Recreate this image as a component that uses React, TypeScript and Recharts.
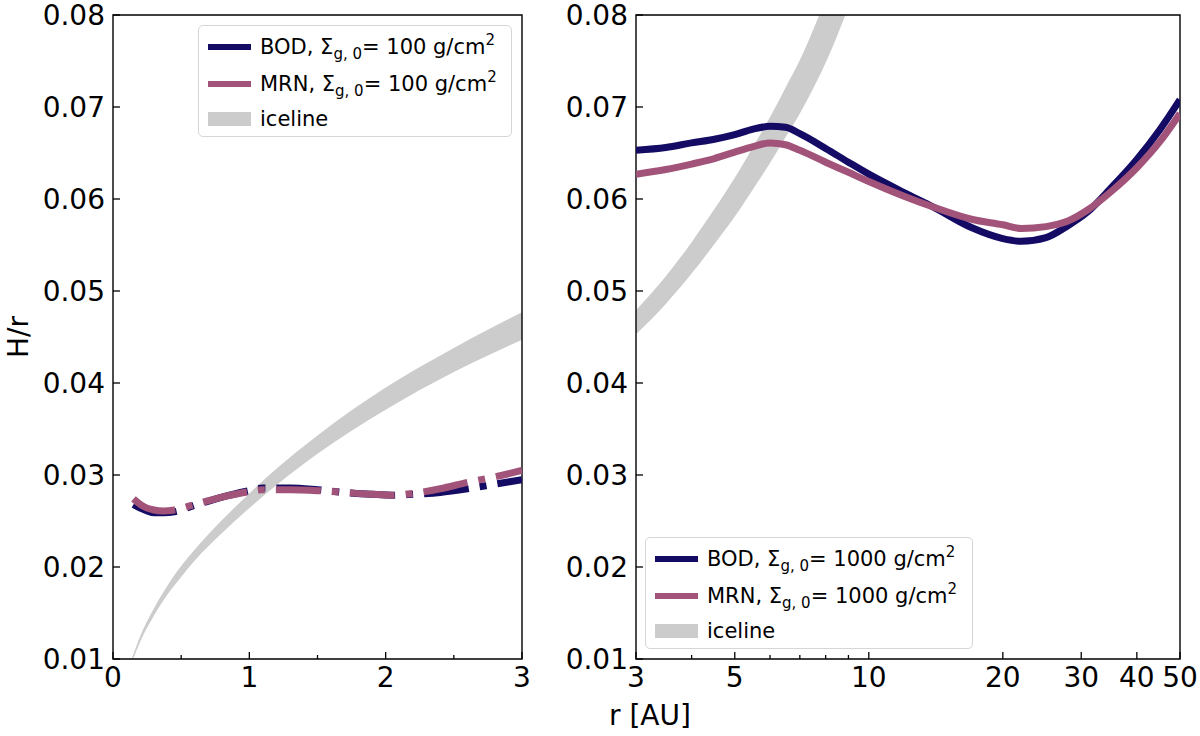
import React from "react";
import { ComposedChart, Line, Area, XAxis, YAxis, ReferenceArea } from "recharts";

const FONT = "'DejaVu Sans', sans-serif";
const BOD_COLOR = "#130b64";
const MRN_COLOR = "#a15379";
const ICE_COLOR = "#cccccc";

// inner disc, Σg,0 = 100 g/cm² (linear r)
const R_INNER = [0.15, 0.2, 0.25, 0.3, 0.37, 0.45, 0.6, 0.8, 1.0, 1.1, 1.3, 1.5, 1.7, 1.9, 2.05, 2.2, 2.4, 2.6, 2.8, 3.0];
const BOD_INNER = [0.0268, 0.0264, 0.0261, 0.0259, 0.0259, 0.026, 0.0267, 0.0276, 0.0283, 0.0286, 0.0286, 0.0284, 0.0281, 0.0279, 0.0278, 0.0279, 0.0281, 0.0285, 0.029, 0.0295];
const MRN_INNER = [0.0274, 0.0268, 0.0264, 0.0262, 0.0261, 0.0262, 0.0268, 0.0276, 0.0282, 0.0284, 0.0284, 0.0283, 0.0281, 0.0279, 0.0278, 0.028, 0.0285, 0.0292, 0.0298, 0.0305];
const ICE_R_INNER = [0.14, 0.2, 0.3, 0.4, 0.5, 0.6, 0.8, 1.0, 1.2, 1.5, 2.0, 2.5, 3.0];
const ICE_LOW_INNER = [0.0097, 0.0119, 0.0147, 0.017, 0.0189, 0.0207, 0.0237, 0.0264, 0.0289, 0.0323, 0.0371, 0.0412, 0.0447];
const ICE_HIGH_INNER = [0.0101, 0.0125, 0.0155, 0.018, 0.0201, 0.0219, 0.0251, 0.028, 0.0307, 0.0343, 0.0395, 0.0438, 0.0477];

// outer disc, Σg,0 = 1000 g/cm² (log r)
const R_OUTER = [3, 3.5, 4, 4.5, 5, 5.5, 6, 6.5, 7, 8, 9, 10, 12, 14, 17, 20, 22, 25, 28, 31, 35, 40, 45, 50];
const BOD_OUTER = [0.0653, 0.0656, 0.0661, 0.0665, 0.067, 0.0676, 0.0679, 0.0678, 0.0671, 0.0655, 0.064, 0.0627, 0.0607, 0.0591, 0.0569, 0.0557, 0.0554, 0.0558, 0.0571, 0.0586, 0.0612, 0.0643, 0.0675, 0.0708];
const MRN_OUTER = [0.0627, 0.0632, 0.0638, 0.0644, 0.0651, 0.0657, 0.0661, 0.0659, 0.0653, 0.064, 0.0629, 0.0619, 0.0603, 0.0591, 0.0578, 0.0572, 0.0568, 0.057, 0.0576, 0.0588, 0.0608, 0.0634, 0.0662, 0.0693];
const ICE_R_OUTER = [3, 3.5, 4, 4.5, 5, 5.5, 6, 6.5, 7, 7.5, 8, 8.5, 9, 9.5];
const ICE_LOW_OUTER = [0.0453, 0.0486, 0.0519, 0.0551, 0.0581, 0.0611, 0.0639, 0.0667, 0.0693, 0.072, 0.0748, 0.0778, 0.0809, 0.0843];
const ICE_HIGH_OUTER = [0.0479, 0.0516, 0.0553, 0.0589, 0.0623, 0.0657, 0.0689, 0.0721, 0.0751, 0.0784, 0.0818, 0.0854, 0.0891, 0.0929];

const H_TICKS = [0.01, 0.02, 0.03, 0.04, 0.05, 0.06, 0.07, 0.08];
const R_TICKS_INNER = [0, 0.5, 1, 1.5, 2, 2.5, 3];
const R_LABELS_INNER = [0, 1, 2, 3];
const R_TICKS_OUTER = [3, 4, 5, 6, 7, 8, 9, 10, 20, 30, 40, 50];
const R_LABELS_OUTER = [3, 5, 10, 20, 30, 40, 50];

function buildRows(xs: number[], bod: number[], mrn: number[], iceX: number[], iceLow: number[], iceHigh: number[]) {
  const map = new Map<number, any>();
  const row = (x: number) => {
    if (!map.has(x)) map.set(x, { r: x });
    return map.get(x);
  };
  xs.forEach((x, i) => {
    const o = row(x);
    o.bod = bod[i];
    o.mrn = mrn[i];
  });
  iceX.forEach((x, i) => {
    row(x).ice = [iceLow[i], iceHigh[i]];
  });
  return [...map.values()].sort((a, b) => a.r - b.r);
}

const makeXTick = (labels: number[]) => (props: any) => {
  const { x, y, payload } = props;
  const major = labels.includes(payload.value);
  return (
    <g>
      <line x1={x} x2={x} y1={y} y2={y - (major ? 7 : 4)} stroke="#000" strokeWidth={1.3} />
      {major && (
        <text x={x} y={y + 28} textAnchor="middle" fontSize={28} fontFamily={FONT} fill="#000">
          {payload.value}
        </text>
      )}
    </g>
  );
};

const YTick = (props: any) => {
  const { x, y, payload } = props;
  return (
    <g>
      <line x1={x} x2={x + 7} y1={y} y2={y} stroke="#000" strokeWidth={1.3} />
      <text x={x - 8} y={y + 10} textAnchor="end" fontSize={28} fontFamily={FONT} fill="#000">
        {payload.value.toFixed(2)}
      </text>
    </g>
  );
};

type PanelProps = {
  rows: any[];
  width: number;
  left: number;
  yAxisWidth: number;
  marginRight: number;
  domain: [number, number];
  log?: boolean;
  ticks: number[];
  labels: number[];
  dash?: string;
};

function Panel({ rows, width, left, yAxisWidth, marginRight, domain, log, ticks, labels, dash }: PanelProps) {
  return (
    <div style={{ position: "absolute", left, top: 0 }}>
      <ComposedChart width={width} height={736} data={rows} margin={{ top: 15, right: marginRight, bottom: 0, left: 0 }}>
        <XAxis
          dataKey="r"
          type="number"
          scale={log ? "log" : "linear"}
          domain={domain}
          allowDataOverflow
          ticks={ticks}
          interval={0}
          height={77}
          axisLine={false}
          tickLine={false}
          tickSize={0}
          tickMargin={0}
          tick={makeXTick(labels)}
        />
        <YAxis
          type="number"
          domain={[0.01, 0.08]}
          allowDataOverflow
          ticks={H_TICKS}
          interval={0}
          width={yAxisWidth}
          axisLine={false}
          tickLine={false}
          tickSize={0}
          tickMargin={0}
          tick={YTick}
        />
        <Area
          dataKey="ice"
          type="monotone"
          stroke="none"
          fill={ICE_COLOR}
          fillOpacity={1}
          connectNulls
          dot={false}
          activeDot={false}
          isAnimationActive={false}
        />
        <Line
          dataKey="bod"
          type="monotone"
          stroke={BOD_COLOR}
          strokeWidth={7}
          strokeDasharray={dash}
          connectNulls
          dot={false}
          activeDot={false}
          isAnimationActive={false}
        />
        <Line
          dataKey="mrn"
          type="monotone"
          stroke={MRN_COLOR}
          strokeWidth={7}
          strokeDasharray={dash}
          connectNulls
          dot={false}
          activeDot={false}
          isAnimationActive={false}
        />
        <ReferenceArea
          x1={domain[0]}
          x2={domain[1]}
          y1={0.01}
          y2={0.08}
          fill="none"
          fillOpacity={0}
          stroke="#000"
          strokeWidth={1.4}
          ifOverflow="visible"
        />
      </ComposedChart>
    </div>
  );
}

function LegendBox({ left, top, width, sigma }: { left: number; top: number; width: number; sigma: string }) {
  const sub = { fontSize: 15, position: "relative" as const, top: 5 };
  const sup = { fontSize: 15, position: "relative" as const, top: -9 };
  const items = [
    { name: "BOD", color: BOD_COLOR, patch: false },
    { name: "MRN", color: MRN_COLOR, patch: false },
    { name: "iceline", color: ICE_COLOR, patch: true },
  ];
  const centers = [21, 58, 93];
  return (
    <div
      style={{
        position: "absolute",
        left,
        top,
        width,
        height: 112,
        boxSizing: "border-box",
        border: "1.3px solid #d6d6d6",
        borderRadius: 5,
        background: "rgba(255,255,255,0.8)",
        fontFamily: FONT,
        fontSize: 21,
        color: "#000",
      }}
    >
      {items.map((it, i) => (
        <div
          key={it.name}
          style={{ position: "absolute", left: 9, top: centers[i] - 18, height: 36, display: "flex", alignItems: "center", whiteSpace: "nowrap" }}
        >
          <svg width={43} height={36} style={{ marginRight: 9 }}>
            {it.patch ? (
              <rect x={0} y={11} width={43} height={14} fill={it.color} />
            ) : (
              <line x1={0} x2={43} y1={18} y2={18} stroke={it.color} strokeWidth={6} />
            )}
          </svg>
          {it.patch ? (
            <span>iceline</span>
          ) : (
            <span>
              {it.name}, Σ<span style={sub}>g, 0</span>= {sigma} g/cm<span style={sup}>2</span>
            </span>
          )}
        </div>
      ))}
    </div>
  );
}

export default function App() {
  const innerRows = buildRows(R_INNER, BOD_INNER, MRN_INNER, ICE_R_INNER, ICE_LOW_INNER, ICE_HIGH_INNER);
  const outerRows = buildRows(R_OUTER, BOD_OUTER, MRN_OUTER, ICE_R_OUTER, ICE_LOW_OUTER, ICE_HIGH_OUTER);
  return (
    <div style={{ position: "absolute", left: 0, top: 0, width: 1200, height: 736, background: "#fff", overflow: "hidden" }}>
      <Panel
        rows={innerRows}
        width={560}
        left={0}
        yAxisWidth={113}
        marginRight={38}
        domain={[0, 3]}
        ticks={R_TICKS_INNER}
        labels={R_LABELS_INNER}
        dash="45 11 7 11"
      />
      <Panel
        rows={outerRows}
        width={660}
        left={540}
        yAxisWidth={96}
        marginRight={20}
        domain={[3, 50]}
        log
        ticks={R_TICKS_OUTER}
        labels={R_LABELS_OUTER}
      />
      <svg width={1200} height={736} style={{ position: "absolute", left: 0, top: 0, pointerEvents: "none" }}>
        <text x={28} y={337} transform="rotate(-90 28 337)" textAnchor="middle" fontSize={28} fontFamily={FONT} fill="#000">
          H/r
        </text>
        <text x={650} y={725} textAnchor="middle" fontSize={28} fontFamily={FONT} fill="#000">
          r [AU]
        </text>
      </svg>
      <LegendBox left={198} top={25} width={314} sigma="100" />
      <LegendBox left={645} top={537} width={328} sigma="1000" />
    </div>
  );
}
